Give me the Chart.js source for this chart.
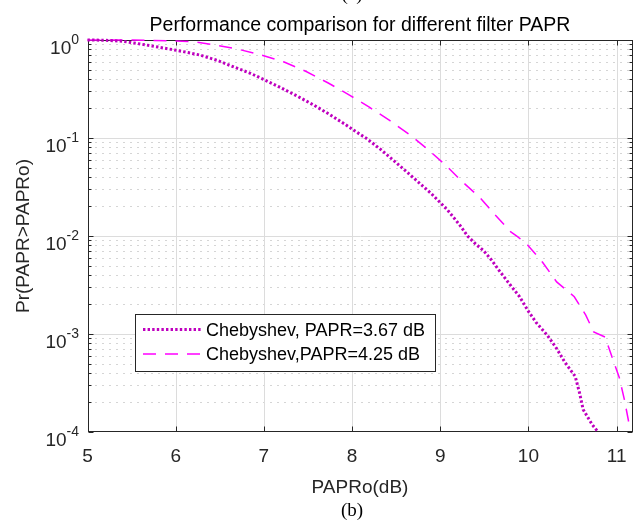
<!DOCTYPE html>
<html><head><meta charset="utf-8">
<script src="https://cdn.jsdelivr.net/npm/chart.js@4.4.1/dist/chart.umd.min.js"></script>
<style>html,body{margin:0;padding:0;background:#fff;}canvas{display:block;}</style>
</head><body>
<canvas id="c" width="642" height="520"></canvas>
<script>
// ---- texts ----
const titleText = 'Performance comparison for different filter PAPR';
const xLabel = 'PAPRo(dB)';
const yLabel = 'Pr(PAPR>PAPRo)';
const topCaption = '(a)';
const bottomCaption = '(b)';
const seriesNames = ['Chebyshev, PAPR=3.67 dB', 'Chebyshev,PAPR=4.25 dB'];

// ---- ticks ----
const xTicks = [5, 6, 7, 8, 9, 10, 11];
const yTickExponents = [0, -1, -2, -3, -4];
const yMinorMultipliers = [2, 3, 4, 5, 6, 7, 8, 9];

// ---- series: Chebyshev, PAPR=3.67 dB (dotted) ----
const cheb367X = [5.0, 5.2, 5.4, 5.55, 5.73, 5.99, 6.14, 6.28, 6.47, 6.65, 6.84, 7.0, 7.18, 7.37, 7.56, 7.75, 7.92, 8.05, 8.17, 8.32, 8.5, 8.7, 8.9, 9.08, 9.22, 9.31, 9.4, 9.49, 9.58, 9.68, 9.79, 9.9, 10.0, 10.09, 10.21, 10.32, 10.41, 10.53, 10.58, 10.62, 10.72, 10.79];
const cheb367Y = [1.0, 0.995, 0.97, 0.925, 0.87, 0.79, 0.745, 0.70, 0.62, 0.535, 0.46, 0.395, 0.33, 0.27, 0.218, 0.173, 0.138, 0.115, 0.098, 0.077, 0.056, 0.039, 0.027, 0.0185, 0.013, 0.0100, 0.0083, 0.0071, 0.0057, 0.0043, 0.0032, 0.0024, 0.0017, 0.0013, 0.00098, 0.00071, 0.00052, 0.00037, 0.00025, 0.00017, 0.00012, 0.0001];

// ---- series: Chebyshev, PAPR=4.25 dB (dashed) ----
const cheb425X = [5.0, 5.5, 5.75, 6.0, 6.2, 6.45, 6.70, 6.97, 7.23, 7.48, 7.73, 7.98, 8.2, 8.43, 8.66, 8.87, 9.07, 9.25, 9.45, 9.62, 9.8, 9.88, 9.99, 10.16, 10.32, 10.52, 10.65, 10.74, 10.87, 10.94, 11.03, 11.09, 11.15];
const cheb425Y = [1.0, 1.0, 0.99, 0.977, 0.96, 0.889, 0.809, 0.703, 0.596, 0.477, 0.364, 0.271, 0.205, 0.15, 0.107, 0.075, 0.052, 0.0358, 0.0247, 0.0165, 0.011, 0.0098, 0.0081, 0.0054, 0.0034, 0.0024, 0.00156, 0.00105, 0.00093, 0.00061, 0.00036, 0.00021, 0.00011];

const FONT = '"Liberation Sans", Arial, Helvetica, sans-serif';
const SERIF = '"Liberation Serif", "Times New Roman", serif';
const AX = '#262626';

function pts(xs, ys) { return xs.map((x, i) => ({x: x, y: ys[i]})); }

const decor = {
  id: 'decor',
  beforeDatasetsDraw(chart) {
    const {ctx, chartArea: a, scales: {x, y}} = chart;
    const L = Math.round(a.left) + 0.5, R = Math.round(a.right) - 0.5;
    const T = Math.round(a.top) + 0.5, B = Math.round(a.bottom) - 0.5;
    ctx.save();
    ctx.lineWidth = 1;
    // minor dotted grid
    ctx.strokeStyle = '#aaaaaa';
    ctx.setLineDash([1, 6]);
    for (const e of yTickExponents) {
      if (e >= 0) continue;
      for (const m of yMinorMultipliers) {
        const py = Math.round(y.getPixelForValue(m * Math.pow(10, e))) + 0.5;
        ctx.beginPath(); ctx.moveTo(L, py); ctx.lineTo(R, py); ctx.stroke();
      }
    }
    // major grid
    ctx.setLineDash([]);
    ctx.strokeStyle = '#dcdcdc';
    for (const v of xTicks) {
      const px = Math.round(x.getPixelForValue(v)) + 0.5;
      if (px <= L + 1 || px >= R - 1) continue;
      ctx.beginPath(); ctx.moveTo(px, T); ctx.lineTo(px, B); ctx.stroke();
    }
    for (const e of yTickExponents) {
      const py = Math.round(y.getPixelForValue(Math.pow(10, e))) + 0.5;
      if (py <= T + 1 || py >= B - 1) continue;
      ctx.beginPath(); ctx.moveTo(L, py); ctx.lineTo(R, py); ctx.stroke();
    }
    // box
    ctx.strokeStyle = AX;
    ctx.strokeRect(L, T, R - L, B - T);
    // tick marks (inside)
    ctx.beginPath();
    for (const v of xTicks) {
      const px = Math.round(x.getPixelForValue(v)) + 0.5;
      ctx.moveTo(px, B); ctx.lineTo(px, B - 5);
      ctx.moveTo(px, T); ctx.lineTo(px, T + 5);
    }
    for (const e of yTickExponents) {
      const py = Math.round(y.getPixelForValue(Math.pow(10, e))) + 0.5;
      ctx.moveTo(L, py); ctx.lineTo(L + 5, py);
      ctx.moveTo(R, py); ctx.lineTo(R - 5, py);
      if (e < 0) {
        for (const m of yMinorMultipliers) {
          const pm = Math.round(y.getPixelForValue(m * Math.pow(10, e))) + 0.5;
          ctx.moveTo(L, pm); ctx.lineTo(L + 3, pm);
          ctx.moveTo(R, pm); ctx.lineTo(R - 3, pm);
        }
      }
    }
    ctx.stroke();
    ctx.restore();
  },
  afterDraw(chart) {
    const {ctx, chartArea: a, scales: {y}} = chart;
    const cx = (a.left + a.right) / 2;
    ctx.save();
    // title centred over the plot area
    ctx.fillStyle = '#000';
    ctx.textAlign = 'center';
    ctx.textBaseline = 'alphabetic';
    ctx.font = '19.5px ' + FONT;
    ctx.fillText(titleText, cx, 31);
    // captions
    ctx.font = '19px ' + SERIF;
    ctx.fillText(topCaption, 352, -0.5);
    ctx.fillText(bottomCaption, 352, 516);
    // y tick labels with superscript exponents
    ctx.fillStyle = AX;
    ctx.textAlign = 'left';
    for (const e of yTickExponents) {
      const py = y.getPixelForValue(Math.pow(10, e));
      const sup = String(e);
      ctx.font = '14px ' + FONT;
      const ws = ctx.measureText(sup).width;
      ctx.font = '19px ' + FONT;
      const wb = ctx.measureText('10').width;
      const right = 79;
      ctx.fillText('10', right - ws - wb, py + 14);
      ctx.font = '14px ' + FONT;
      ctx.fillText(sup, right - ws, py + 4);
    }
    // legend
    const lx1 = 135.5, ly1 = 314.5, lx2 = 435.5, ly2 = 371.5;
    ctx.fillStyle = '#fff';
    ctx.fillRect(lx1, ly1, lx2 - lx1, ly2 - ly1);
    ctx.strokeStyle = AX; ctx.lineWidth = 1; ctx.setLineDash([]);
    ctx.strokeRect(lx1, ly1, lx2 - lx1, ly2 - ly1);
    const rows = [329.5, 354];
    chart.data.datasets.forEach((ds, i) => {
      const ry = rows[i];
      ctx.save();
      ctx.strokeStyle = ds.borderColor;
      ctx.lineWidth = ds.borderWidth;
      ctx.setLineDash(ds.borderDash);
      ctx.beginPath(); ctx.moveTo(143, ry); ctx.lineTo(202, ry); ctx.stroke();
      ctx.restore();
      ctx.font = '18px ' + FONT;
      ctx.fillStyle = '#000';
      ctx.textAlign = 'left';
      ctx.textBaseline = 'middle';
      ctx.fillText(ds.label, 206, ry + 1.5);
    });
    ctx.restore();
  }
};

new Chart(document.getElementById('c'), {
  type: 'line',
  data: {
    datasets: [
      { label: seriesNames[0], data: pts(cheb367X, cheb367Y), borderColor: '#bf00bf', borderWidth: 3, borderDash: [2.4, 2.2], pointRadius: 0, fill: false, tension: 0, clip: 8 },
      { label: seriesNames[1], data: pts(cheb425X, cheb425Y), borderColor: '#ff00ff', borderWidth: 1.5, borderDash: [13, 9], pointRadius: 0, fill: false, tension: 0, clip: 8 }
    ]
  },
  options: {
    responsive: false,
    animation: false,
    devicePixelRatio: 1,
    layout: { padding: { left: 0, right: 9.5, top: 40, bottom: 0 } },
    plugins: {
      legend: { display: false },
      tooltip: { enabled: false },
      title: { display: false }
    },
    scales: {
      x: {
        type: 'linear', min: 5, max: 11.18,
        afterBuildTicks: (s) => { s.ticks = xTicks.map(v => ({value: v})); },
        afterFit: (s) => { s.height = 88; },
        grid: { display: false, drawTicks: false },
        border: { display: false },
        ticks: { color: AX, font: { family: FONT, size: 19 }, padding: 13, maxRotation: 0, autoSkip: false },
        title: { display: true, text: xLabel, color: AX, font: { family: FONT, size: 19, lineHeight: 1 }, padding: { top: 0, bottom: 22.5 } }
      },
      y: {
        type: 'logarithmic', min: 1e-4, max: 1,
        afterFit: (s) => { s.width = 87.5; },
        grid: { display: false, drawTicks: false },
        border: { display: false },
        ticks: { display: false },
        title: { display: true, text: yLabel, color: AX, font: { family: FONT, size: 19, lineHeight: 1.2 }, padding: { top: 12.6, bottom: 0 } }
      }
    }
  },
  plugins: [decor]
});
</script>
</body></html>
